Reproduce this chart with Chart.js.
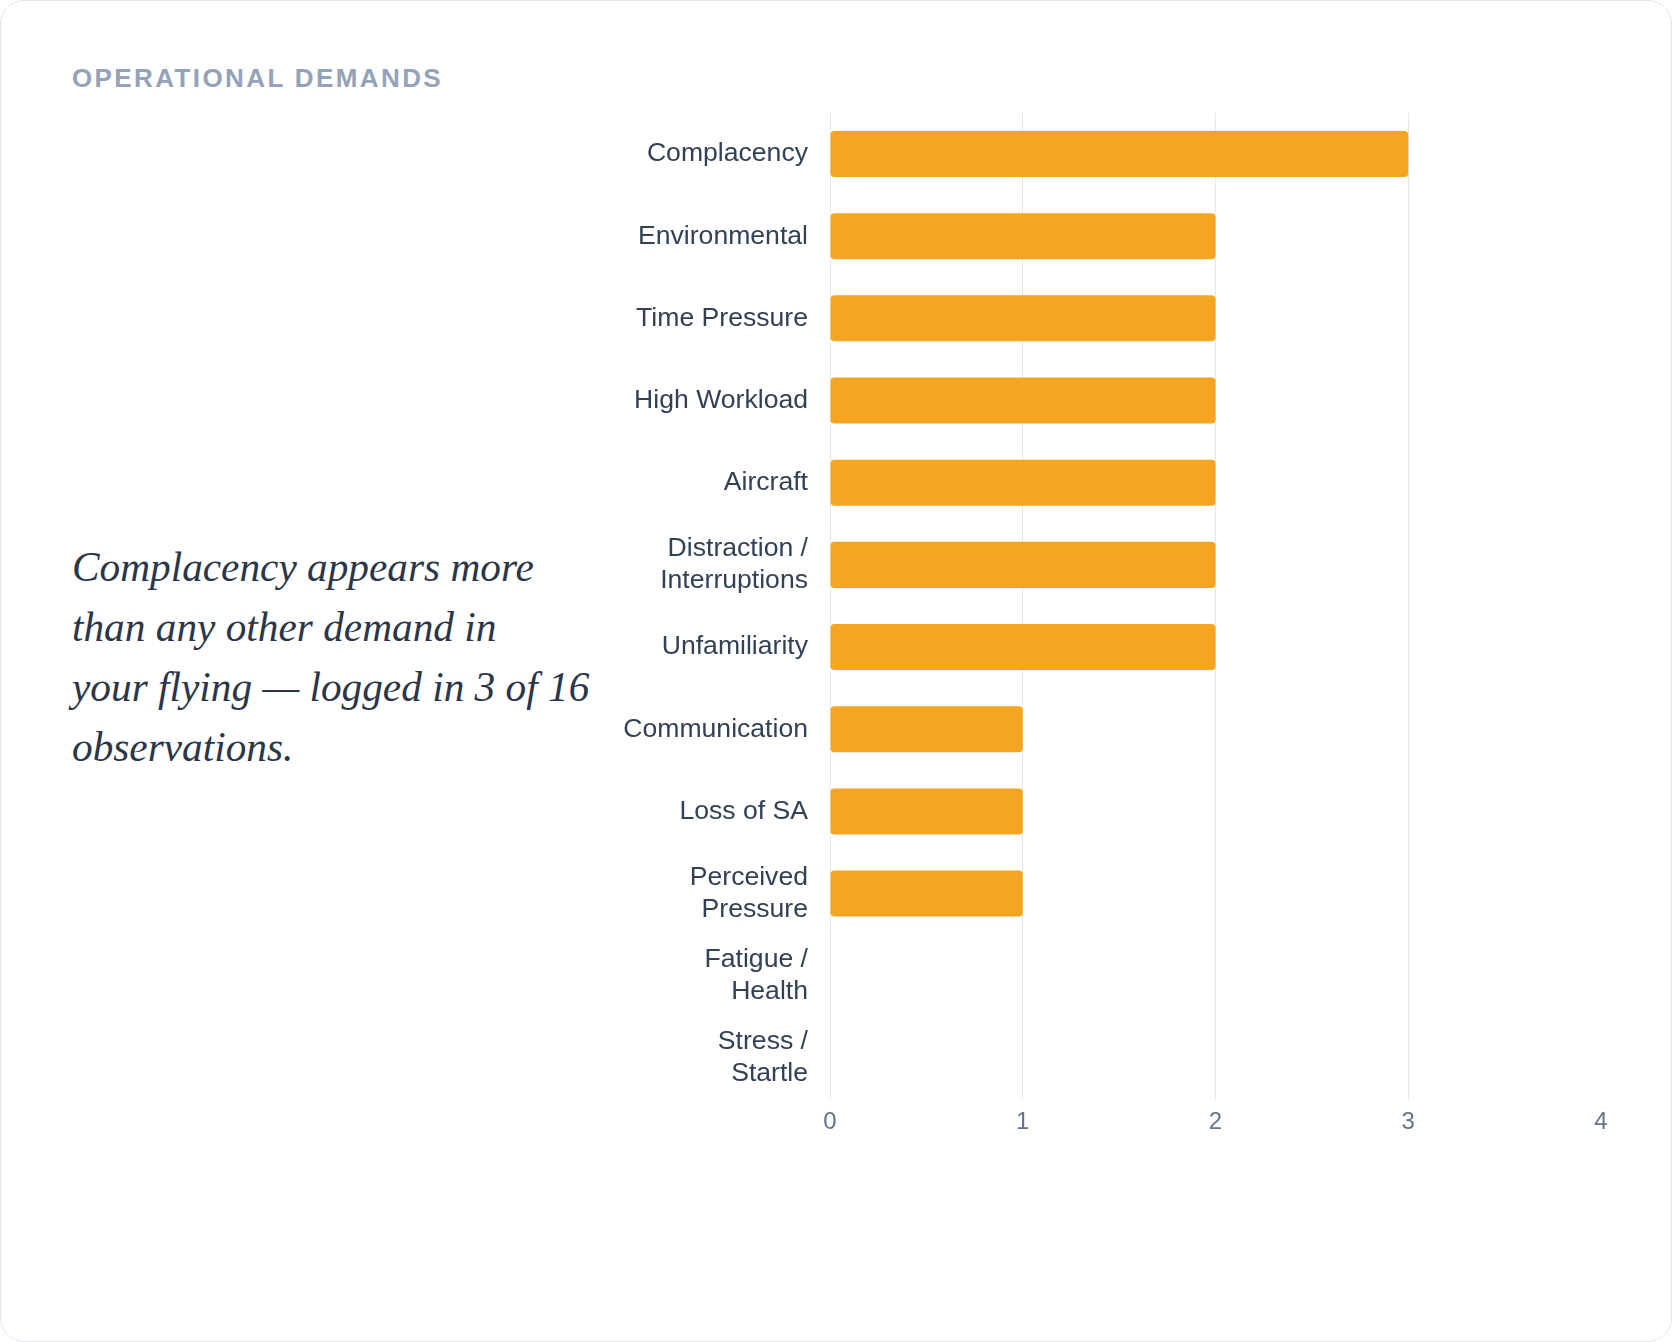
<!DOCTYPE html>
<html>
<head>
<meta charset="utf-8">
<script src="https://cdn.jsdelivr.net/npm/chart.js@4.4.1/dist/chart.umd.min.js"></script>
<style>
  html, body { margin: 0; padding: 0; background: #ffffff; }
  .card {
    position: absolute; left: 0; top: 0; width: 1672px; height: 1342px;
    box-sizing: border-box; border: 1px solid #e2e8f0; border-radius: 24px; background: #fff;
  }
  .title {
    position: absolute; left: 71px; top: 62px; margin: 0;
    font-family: "Liberation Sans", Arial, sans-serif; font-weight: 700;
    font-size: 26px; line-height: 30px; letter-spacing: 2.4px; color: #94a3b8;
  }
  .quote {
    position: absolute; left: 71px; top: 536px; margin: 0;
    font-family: "Liberation Serif", "DejaVu Serif", serif; font-style: italic;
    font-size: 41.3px; line-height: 60px; color: #2b3648; white-space: nowrap;
  }
  .chart-box { position: absolute; left: 600px; top: 58px; width: 1020px; height: 1080px; }
</style>
</head>
<body>
<div class="card">
  <h2 class="title">OPERATIONAL DEMANDS</h2>
  <p class="quote">Complacency appears more<br>than any other demand in<br>your flying — logged in 3 of 16<br>observations.</p>
  <div class="chart-box"><canvas id="demands"></canvas></div>
</div>
<script>
// === データ ===
const demandLabels = [
  'Complacency', 'Environmental', 'Time Pressure', 'High Workload', 'Aircraft',
  ['Distraction /', 'Interruptions'], 'Unfamiliarity', 'Communication', 'Loss of SA',
  ['Perceived', 'Pressure'], ['Fatigue /', 'Health'], ['Stress /', 'Startle']
];
const demandCounts = [3, 2, 2, 2, 2, 2, 2, 1, 1, 1, 0, 0];
const xTicks = [0, 1, 2, 3, 4];

const barColor = '#f4a623';
const gridColor = '#e5e7eb';

// === グラフ描画 ===
const ctx = document.getElementById('demands').getContext('2d');
new Chart(ctx, {
  type: 'bar',
  data: {
    labels: demandLabels,
    datasets: [{
      data: demandCounts,
      backgroundColor: barColor,
      borderRadius: 4,
      borderSkipped: false,
      barPercentage: 0.7,
      categoryPercentage: 0.8
    }]
  },
  options: {
    indexAxis: 'y', responsive: true, maintainAspectRatio: false, animation: false,
    layout: { padding: { top: 0, right: 20, left: 0, bottom: 0 } },
    plugins: { legend: { display: false }, tooltip: { enabled: false } },
    scales: {
      x: {
        min: xTicks[0], max: xTicks[xTicks.length - 1],
        afterBuildTicks: (axis) => { axis.ticks = xTicks.map(v => ({ value: v })); },
        afterFit: (axis) => { axis.height = 40; },
        border: { display: false },
        grid: {
          drawTicks: false,
          color: (c) => (c.tick && c.tick.value === xTicks[xTicks.length - 1]) ? 'rgba(0,0,0,0)' : gridColor
        },
        ticks: { color: '#64748b', padding: 9, font: { family: 'Liberation Sans', size: 24 } }
      },
      y: {
        afterFit: (axis) => { axis.width = 229; },
        border: { display: false },
        grid: { display: false, drawTicks: false },
        ticks: { color: '#334155', padding: 22, font: { family: 'Liberation Sans', size: 26.6 } }
      }
    }
  }
});
</script>
</body>
</html>
